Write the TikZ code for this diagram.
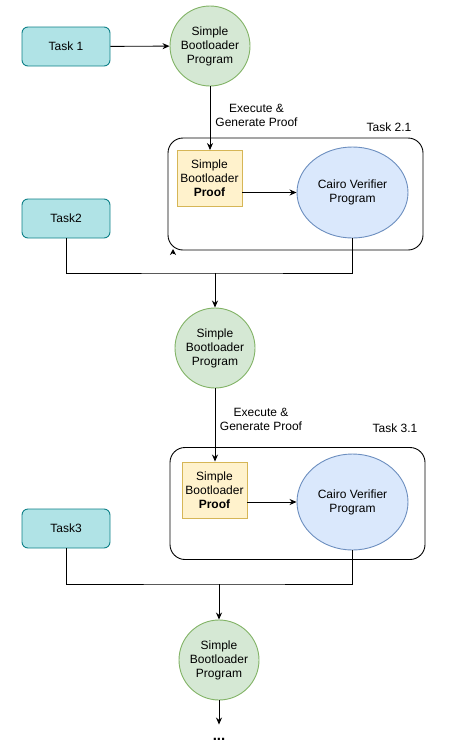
\documentclass[tikz,border=0pt]{standalone}
\usepackage{fontspec}
\setmainfont{Liberation Sans}
\usetikzlibrary{arrows.meta, positioning, shapes.geometric}

\definecolor{taskfill}{HTML}{B0E3E6}
\definecolor{taskline}{HTML}{0E8088}
\definecolor{progfill}{HTML}{D5E8D4}
\definecolor{progline}{HTML}{82B366}
\definecolor{prooffill}{HTML}{FFF2CC}
\definecolor{proofline}{HTML}{D6B656}
\definecolor{verfill}{HTML}{DAE8FC}
\definecolor{verline}{HTML}{6C8EBF}

\begin{document}
\begin{tikzpicture}[x=1pt, y=-1pt, >={Stealth[length=7pt, width=6pt]}, line width=0.9pt,
    font=\fontsize{12}{14}\selectfont,
    task/.style={draw=taskline, fill=taskfill, rounded corners=6pt, minimum width=88pt, minimum height=39pt},
    prog/.style={circle, draw=progline, fill=progfill, minimum size=80pt, inner sep=0pt, align=center},
    proof/.style={draw=proofline, fill=prooffill, minimum width=65pt, minimum height=56pt, inner sep=0pt, align=center},
    verifier/.style={ellipse, draw=verline, fill=verfill, inner sep=0pt, align=center},
    group/.style={draw, rounded corners=15pt, minimum width=255pt, minimum height=112pt},
    lbl/.style={align=center, inner sep=0pt}]
    \useasboundingbox (0,0) rectangle (452,750);

    % first round
    \node[task] (task1) at (66,46.5) {Task 1};
    \node[prog] (bl1) at (210,46) {Simple\\Bootloader\\Program};
    \node[group] (grp1) at (295.5,194) {};
    \node[lbl] (task21) at (389,127) {Task 2.1};
    \node[proof] (proof1) at (209.5,178.5) {Simple\\Bootloader\\\textbf{Proof}};
    \node[verifier, minimum width=111pt, minimum height=91pt] (ver1) at (352.5,192.5) {Cairo Verifier\\Program};
    \node[lbl] (exec1) at (256.5,115) {Execute \&\\Generate Proof};
    \node[task] (task2) at (66,218.5) {Task2};
    \coordinate (stub1) at (173,253);
    \coordinate (join1) at (215,273);

    \draw[->] (task1) -- (bl1);
    \draw[->] (bl1.south) -- (bl1.south |- proof1.north);
    \draw[->] (proof1.east |- ver1.west) -- (ver1.west);
    \draw[-{Stealth[length=6pt, width=6pt]}] (stub1) -- ++(0,-4);
    \draw (task2.south) |- (join1) -| (ver1.south);

    % second round
    \node[prog] (bl2) at (215,348) {Simple\\Bootloader\\Program};
    \draw[->] (join1) -- (bl2);
    \node[group] (grp2) at (297.5,503.5) {};
    \node[lbl] (task31) at (395,428) {Task 3.1};
    \node[proof] (proof2) at (214.5,490) {Simple\\Bootloader\\\textbf{Proof}};
    \node[verifier, minimum width=111pt, minimum height=96pt] (ver2) at (352.5,502) {Cairo Verifier\\Program};
    \node[lbl] (exec2) at (261,419.5) {Execute \&\\Generate Proof};
    \node[task] (task3) at (66,528.5) {Task3};
    \coordinate (join2) at (219,584);

    \draw[->] (bl2.south) -- (bl2.south |- proof2.north);
    \draw[->] (proof2.east |- ver2.west) -- (ver2.west);
    \draw (task3.south) |- (join2) -| (ver2.south);

    % third round
    \node[prog] (bl3) at (219,660) {Simple\\Bootloader\\Program};
    \node[inner sep=0pt, text height=15pt, anchor=base, font=\fontsize{15}{17}\selectfont\bfseries] (dots) at (219,740) {...};
    \draw[->] (join2) -- (bl3);
    \draw[->] (bl3) -- (dots);
\end{tikzpicture}
\end{document}
